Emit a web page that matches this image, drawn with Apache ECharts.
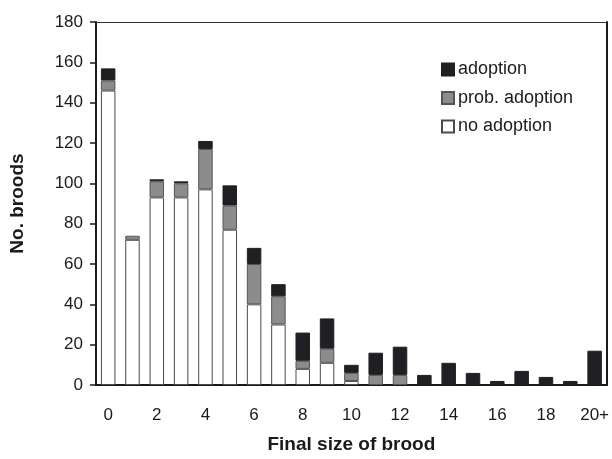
<!DOCTYPE html>
<html>
<head>
<meta charset="utf-8">
<script src="https://cdn.jsdelivr.net/npm/echarts@6/dist/echarts.min.js"></script>
<style>
  html, body { margin: 0; padding: 0; background: #fff; }
  #chart { width: 612px; height: 459px; }
</style>
</head>
<body>
<div id="chart"></div>
<script>
// Final brood size categories
const categories = ['0','1','2','3','4','5','6','7','8','9','10','11','12','13','14','15','16','17','18','19','20+'];

// Number of broods per category, split by adoption status
const noAdoption   = [146, 72, 93, 93, 97, 77, 40, 30,  8, 11, 2,  0,  0, 0,  0, 0, 0, 0, 0, 0,  0];
const probAdoption = [  5,  2,  8,  7, 20, 12, 20, 14,  4,  7, 4,  5,  5, 0,  0, 0, 0, 0, 0, 0,  0];
const adoption     = [  6,  0,  1,  1,  4, 10,  8,  6, 14, 15, 4, 11, 14, 5, 11, 6, 2, 7, 4, 2, 17];

const yTicks = { min: 0, max: 180, interval: 20 };

const FONT = 'Liberation Sans, Arial, sans-serif';
const INK = '#1a1a1a';

// zero-height stack segments are left out so no stray outline is drawn
const clean = arr => arr.map(v => (v === 0 ? null : v));

const barCommon = {
  type: 'bar',
  stack: 'broods',
  barWidth: 14.5,
  xAxisIndex: 0,
  yAxisIndex: 0
};

const chart = echarts.init(document.getElementById('chart'), null, { renderer: 'canvas' });

chart.setOption({
  animation: false,
  backgroundColor: '#ffffff',
  grid: { left: 95, right: 5, top: 22, bottom: 73 },
  legend: {
    orient: 'vertical',
    left: 436,
    top: 55.5,
    itemWidth: 12,
    itemHeight: 12,
    itemGap: 10.5,
    icon: 'rect',
    textStyle: { fontFamily: FONT, fontSize: 18, color: INK, padding: [0, 0, 0, -1] },
    data: ['adoption', 'prob. adoption', 'no adoption']
  },
  xAxis: [
    {
      type: 'category',
      data: categories,
      boundaryGap: true,
      axisLine: { lineStyle: { color: INK, width: 2 } },
      axisTick: { interval: 0, length: 6, lineStyle: { color: INK, width: 2 } },
      axisLabel: { interval: 1, margin: 22, fontFamily: FONT, fontSize: 17, color: INK },
      name: 'Final size of brood',
      nameLocation: 'middle',
      nameGap: 50,
      nameTextStyle: { fontFamily: FONT, fontSize: 19, fontWeight: 'bold', color: INK }
    },
    {
      type: 'category',
      data: categories,
      position: 'top',
      axisLine: { onZero: false, lineStyle: { color: '#333', width: 1.2 } },
      axisTick: { show: false },
      axisLabel: { show: false }
    }
  ],
  yAxis: [
    {
      type: 'value',
      min: yTicks.min,
      max: yTicks.max,
      interval: yTicks.interval,
      splitLine: { show: false },
      axisLine: { show: true, lineStyle: { color: INK, width: 2 } },
      axisTick: { show: true, length: 6, lineStyle: { color: INK, width: 1.5 } },
      axisLabel: { margin: 13, fontFamily: FONT, fontSize: 17, color: INK },
      name: 'No. broods',
      nameLocation: 'middle',
      nameGap: 69,
      nameTextStyle: { fontFamily: FONT, fontSize: 19, fontWeight: 'bold', color: INK }
    },
    {
      type: 'value',
      position: 'right',
      min: yTicks.min,
      max: yTicks.max,
      interval: yTicks.interval,
      splitLine: { show: false },
      axisLine: { show: true, onZero: false, lineStyle: { color: INK, width: 2 } },
      axisTick: { show: false },
      axisLabel: { show: false }
    }
  ],
  series: [
    Object.assign({}, barCommon, {
      name: 'no adoption',
      data: clean(noAdoption),
      itemStyle: { color: '#ffffff', borderColor: '#4a4a4a', borderWidth: 1 }
    }),
    Object.assign({}, barCommon, {
      name: 'prob. adoption',
      data: clean(probAdoption),
      itemStyle: { color: '#8c8c8c', borderColor: '#555555', borderWidth: 1 }
    }),
    Object.assign({}, barCommon, {
      name: 'adoption',
      data: clean(adoption),
      itemStyle: { color: '#202024', borderColor: '#202024', borderWidth: 1 }
    })
  ]
});
</script>
</body>
</html>
